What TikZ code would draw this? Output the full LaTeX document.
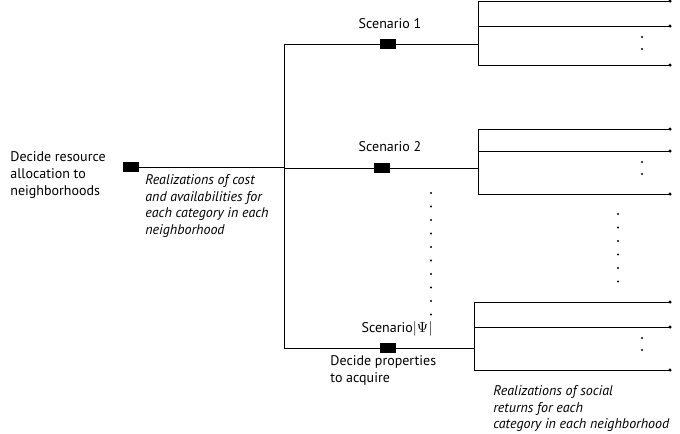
\documentclass[tikz,border=0pt]{standalone}
\usepackage{fontspec}
\setmainfont{PT Sans}
\usetikzlibrary{calc}

\begin{document}
\begin{tikzpicture}[x=.75pt,y=-.75pt,line width=.6pt,
  decbox/.style={fill=black,minimum width=12pt,minimum height=7.5pt,inner sep=0pt},
  lbl/.style={font=\fontsize{10.5}{12.75}\selectfont,align=left,inner sep=0pt},
  itl/.style={font=\fontsize{10.5}{12.5}\selectfont\itshape,align=left,inner sep=0pt}]
\useasboundingbox (0,0) rectangle (680,433);
% decision boxes
\node[decbox] (root) at (131,167) {};
\node[decbox] (sc1) at (388,44) {};
\node[decbox] (sc2) at (382,168) {};
\node[decbox] (sc3) at (388,348) {};
% trunk
\coordinate (t1) at (284,44); \coordinate (t3) at (284,348);
\draw (t1) -- (t3); \draw (root) -- (root -| t1);
% scenario branches and their fans
\foreach \n/\x/\ya/\yb/\yc in {1/478/1/26/65,2/478/129/151/194,3/474/302/327/370}{
  \coordinate (f\n) at (\x,\ya); \coordinate (g\n) at (\x,\yc);
  \draw (t1 |- sc\n) -- (sc\n) -- (sc\n -| f\n);
  \draw (670,\ya) -- (f\n) -- (g\n) -- (670,\yc);
  \draw (\x,\yb) -- (670,\yb);
  \foreach \y in {\ya,\yb,\yc} \fill (670,\y) circle (1.3pt);
  \fill (642,\yb+11) circle (.8pt) (642,\yb+23) circle (.8pt);
}
\foreach \i in {0,...,9} \fill (431,193+13.5*\i) circle (.8pt);
\foreach \i in {0,...,5} \fill (618,214+13.5*\i) circle (.8pt);
% labels
\node[lbl,anchor=north west] (rootlbl) at (10,151) {Decide resource\\allocation to\\neighborhoods};
\node[itl,anchor=north west] (costlbl) at (145,174) {Realizations of cost\\and availabilities for\\each category in each\\neighborhood};
\node[lbl] (sc1lbl) at (390,24) {Scenario 1};
\node[lbl] (sc2lbl) at (390,147) {Scenario 2};
\node[lbl] (sc3lbl) at (397,329) {Scenario$\bigl|\Psi\bigr|$};
\node[lbl,anchor=north west] (proplbl) at (330,355) {Decide properties\\to acquire};
\node[itl,anchor=north west] (retlbl) at (493,385) {Realizations of social\\returns for each\\category in each neighborhood};
\end{tikzpicture}
\end{document}
